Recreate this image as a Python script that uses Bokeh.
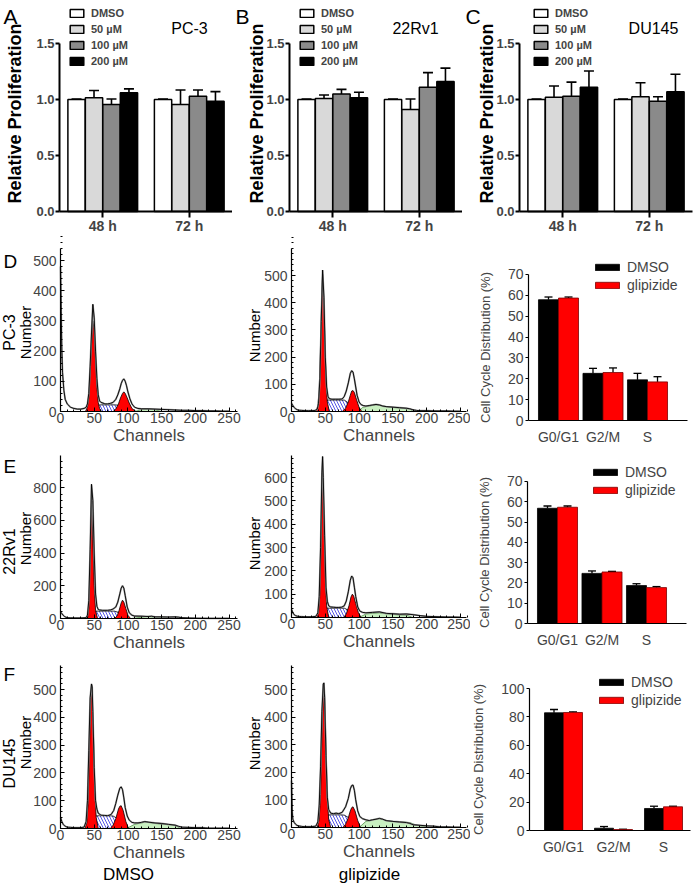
from math import pi
from bokeh.plotting import figure
from bokeh.layouts import column, row
from bokeh.models import Range1d, FixedTicker, Label, Whisker, ColumnDataSource, TeeHead
from bokeh.embed import file_html
from bokeh.resources import INLINE

SANS = "Liberation Sans"

# ---------------- data: proliferation (A-C) ----------------
times = ["48 h", "72 h"]
doses = ["DMSO", "50 µM", "100 µM", "200 µM"]
dose_colors = ["white", "#d9d9d9", "#8a8a8a", "black"]
prolif_yticks = [0, 0.5, 1.0, 1.5]
prolif_ylabels = ["0.0", "0.5", "1.0", "1.5"]

pc3_48 = [1.00, 1.015, 0.955, 1.06]
pc3_48_err = [0.005, 0.065, 0.05, 0.035]
pc3_72 = [1.00, 0.955, 1.03, 0.985]
pc3_72_err = [0.005, 0.13, 0.055, 0.085]

rv1_48 = [1.00, 1.01, 1.05, 1.015]
rv1_48_err = [0.005, 0.03, 0.04, 0.05]
rv1_72 = [1.00, 0.91, 1.11, 1.16]
rv1_72_err = [0.005, 0.095, 0.13, 0.12]

du_48 = [1.00, 1.02, 1.03, 1.11]
du_48_err = [0.005, 0.10, 0.125, 0.145]
du_72 = [1.00, 1.025, 0.985, 1.07]
du_72_err = [0.005, 0.125, 0.04, 0.155]

# ---------------- data: cell cycle distribution ----------------
phases = ["G0/G1", "G2/M", "S"]
pc3_dmso = [57.9, 22.6, 19.5]
pc3_dmso_err = [1.3, 2.4, 3.1]
pc3_glip = [58.7, 23.0, 18.5]
pc3_glip_err = [0.5, 2.2, 2.5]
rv1_dmso = [56.8, 24.7, 18.7]
rv1_dmso_err = [1.1, 1.2, 0.9]
rv1_glip = [57.3, 25.4, 17.7]
rv1_glip_err = [0.6, 0.3, 0.5]
du_dmso = [82.9, 1.6, 15.5]
du_dmso_err = [2.3, 1.2, 1.6]
du_glip = [83.1, 0.7, 16.7]
du_glip_err = [0.5, 0.2, 0.4]
cycle_ticks_70 = [0, 10, 20, 30, 40, 50, 60, 70]
cycle_ticks_100 = [0, 20, 40, 60, 80, 100]

# ---------------- data: DNA histograms ----------------
hist_x_ticks = [0, 50, 100, 150, 200, 250]
hist_x_minor = [0, 10, 20, 30, 40, 50, 60, 70, 80, 90, 100, 110, 120, 130, 140, 150, 160, 170, 180, 190, 200, 210, 220, 230, 240, 250, 260]
hist_y_ticks_500 = [0, 100, 200, 300, 400, 500]
hist_y_ticks_600 = [0, 100, 200, 300, 400, 500, 600]
hist_y_ticks_800 = [0, 200, 400, 600, 800]
hist_y_minor_20 = [0, 20, 40, 60, 80, 100, 120, 140, 160, 180, 200, 220, 240, 260, 280, 300, 320, 340, 360, 380, 400, 420, 440, 460, 480, 500, 520, 540, 560, 580, 600, 620, 640, 660, 680]
hist_y_minor_40 = [0, 40, 80, 120, 160, 200, 240, 280, 320, 360, 400, 440, 480, 520, 560, 600, 640, 680, 720, 760, 800, 840, 880, 920, 960]

# PC-3 DMSO
d1_ch = [0, 1, 2, 3, 5, 7, 10, 15, 20, 25, 30, 35, 38, 40, 42, 44, 46, 48, 50, 52, 54, 56, 58, 60, 63, 66, 70, 74, 78, 82, 85, 88, 90, 92, 94, 96, 98, 100, 103, 106, 110, 115, 120, 130, 140, 150, 160, 170, 180, 190, 200, 210, 220, 230, 240, 250]
d1_n = [480, 330, 200, 130, 70, 40, 25, 14, 10, 8, 8, 10, 14, 25, 60, 150, 260, 355, 310, 200, 110, 55, 35, 30, 28, 25, 25, 27, 30, 40, 55, 75, 92, 103, 108, 100, 85, 65, 42, 25, 14, 10, 9, 9, 8, 7, 6, 5, 4, 4, 3, 3, 2, 2, 1, 1]
d1_g1_ch = [37, 40, 42, 44, 46, 48, 50, 52, 54, 56, 58, 61]
d1_g1 = [0, 15, 45, 120, 220, 300, 270, 170, 80, 30, 10, 0]
d1_g2_ch = [78, 82, 86, 89, 92, 94, 96, 99, 102, 106, 112]
d1_g2 = [0, 8, 25, 45, 60, 65, 60, 45, 28, 10, 0]
d1_s_ch = [48, 52, 60, 70, 80, 90, 94]
d1_s = [0, 20, 22, 22, 22, 20, 0]
d1_gr_ch = [110, 120, 130, 140, 150]
d1_gr = [0, 6, 7, 6, 0]

# PC-3 glipizide
d2_ch = [0, 2, 4, 6, 8, 10, 15, 20, 25, 30, 35, 38, 40, 42, 44, 46, 48, 50, 52, 54, 56, 60, 65, 70, 75, 78, 81, 84, 87, 89, 91, 93, 95, 97, 100, 103, 106, 110, 115, 120, 125, 130, 135, 140, 150, 160, 170, 175, 180, 185, 190, 200, 210, 220, 230, 240, 250]
d2_n = [30, 22, 15, 10, 7, 5, 4, 3, 3, 3, 4, 8, 30, 120, 330, 520, 420, 200, 90, 55, 47, 45, 45, 45, 46, 55, 75, 105, 140, 150, 145, 120, 90, 60, 35, 25, 22, 20, 22, 24, 26, 24, 20, 18, 16, 14, 12, 10, 6, 4, 3, 3, 2, 2, 2, 1, 1]
d2_g1_ch = [36, 39, 41, 43, 45, 46, 47, 49, 51, 53, 56]
d2_g1 = [0, 20, 80, 250, 450, 505, 460, 300, 120, 35, 0]
d2_g2_ch = [75, 80, 84, 87, 89, 91, 93, 96, 100, 104]
d2_g2 = [0, 12, 35, 60, 75, 77, 70, 45, 15, 0]
d2_s_ch = [47, 52, 60, 70, 78, 85, 90]
d2_s = [0, 42, 42, 42, 42, 30, 0]
d2_gr_ch = [100, 105, 115, 125, 130, 140, 150, 165, 175, 180]
d2_gr = [0, 15, 20, 25, 24, 18, 15, 12, 10, 0]

# 22Rv1 DMSO
e1_ch = [0, 2, 4, 6, 8, 10, 15, 20, 30, 38, 40, 42, 44, 46, 48, 50, 52, 54, 56, 58, 62, 66, 70, 74, 78, 82, 85, 88, 90, 92, 94, 96, 99, 102, 106, 110, 120, 130, 135, 140, 150, 160, 170, 175, 180, 190, 200, 220, 250]
e1_n = [40, 30, 20, 12, 8, 5, 4, 3, 3, 5, 20, 110, 420, 820, 720, 400, 150, 75, 55, 52, 50, 50, 50, 52, 58, 70, 100, 150, 185, 200, 185, 140, 70, 35, 20, 15, 14, 12, 14, 10, 10, 9, 10, 8, 5, 3, 2, 1, 1]
e1_g1_ch = [40, 42, 44, 45, 46, 47, 48, 50, 52, 55]
e1_g1 = [0, 60, 330, 560, 690, 620, 480, 200, 50, 0]
e1_g2_ch = [80, 84, 87, 90, 92, 94, 97, 100, 104]
e1_g2 = [0, 15, 50, 95, 112, 100, 60, 20, 0]
e1_s_ch = [48, 52, 60, 70, 80, 88, 93]
e1_s = [0, 45, 45, 45, 45, 35, 0]
e1_gr_ch = [105, 120, 130, 140, 160, 175, 180]
e1_gr = [0, 8, 14, 8, 6, 8, 0]

# 22Rv1 glipizide
e2_ch = [0, 2, 4, 6, 8, 10, 15, 20, 30, 36, 39, 41, 43, 45, 46, 47, 49, 51, 53, 55, 58, 62, 66, 70, 74, 78, 81, 84, 87, 89, 91, 93, 95, 98, 101, 105, 110, 120, 130, 140, 150, 160, 170, 180, 190, 200, 210, 220, 230, 240, 250]
e2_n = [35, 20, 12, 8, 6, 5, 4, 3, 3, 5, 20, 90, 300, 620, 690, 600, 350, 130, 70, 50, 45, 44, 43, 43, 44, 50, 70, 110, 160, 178, 170, 130, 90, 45, 28, 22, 20, 22, 24, 18, 16, 14, 15, 12, 8, 5, 4, 3, 2, 2, 1]
e2_g1_ch = [37, 40, 42, 44, 45, 46, 47, 48, 50, 52, 55]
e2_g1 = [0, 20, 100, 350, 520, 586, 540, 420, 180, 50, 0]
e2_g2_ch = [77, 81, 85, 88, 90, 92, 95, 99, 103]
e2_g2 = [0, 15, 50, 88, 100, 92, 60, 20, 0]
e2_s_ch = [46, 52, 60, 70, 78, 85, 90]
e2_s = [0, 40, 40, 40, 40, 30, 0]
e2_gr_ch = [100, 110, 120, 130, 140, 155, 170, 180]
e2_gr = [0, 15, 18, 20, 16, 12, 10, 0]

# DU145 DMSO
f1_ch = [0, 2, 4, 6, 8, 10, 15, 20, 30, 35, 38, 40, 42, 44, 46, 47, 48, 50, 52, 54, 56, 60, 65, 70, 75, 79, 82, 85, 88, 90, 92, 94, 96, 99, 102, 106, 110, 115, 120, 125, 130, 140, 150, 160, 170, 175, 180, 190, 200, 210, 215, 220, 230, 240, 250]
f1_n = [40, 25, 15, 10, 7, 5, 4, 3, 3, 5, 25, 100, 280, 470, 520, 510, 420, 220, 100, 70, 55, 48, 47, 46, 50, 65, 90, 120, 145, 150, 140, 110, 75, 45, 30, 22, 20, 20, 22, 25, 23, 20, 18, 15, 12, 8, 5, 4, 3, 3, 2, 1, 1, 1, 1]
f1_g1_ch = [36, 39, 41, 43, 45, 46, 47, 49, 51, 53, 56]
f1_g1 = [0, 20, 90, 280, 460, 504, 480, 330, 130, 40, 0]
f1_g2_ch = [74, 78, 82, 86, 88, 90, 93, 97, 101]
f1_g2 = [0, 12, 35, 70, 80, 82, 65, 25, 0]
f1_s_ch = [45, 50, 60, 70, 78, 85, 90]
f1_s = [0, 45, 46, 46, 45, 35, 0]
f1_gr_ch = [98, 110, 120, 128, 140, 155, 170, 178]
f1_gr = [0, 15, 20, 24, 18, 15, 12, 0]

# DU145 glipizide
f2_ch = [0, 1, 2, 4, 6, 8, 10, 15, 20, 30, 36, 39, 41, 43, 45, 47, 48, 49, 51, 53, 55, 58, 62, 66, 70, 75, 80, 84, 87, 89, 91, 93, 95, 98, 101, 105, 110, 115, 120, 125, 130, 135, 140, 150, 160, 170, 175, 180, 190, 200, 210, 220, 230, 240, 250]
f2_n = [170, 60, 30, 18, 12, 8, 6, 4, 3, 3, 5, 20, 80, 220, 420, 520, 524, 470, 260, 110, 65, 52, 50, 52, 50, 55, 75, 105, 140, 152, 154, 135, 100, 60, 40, 32, 28, 25, 28, 30, 33, 30, 25, 22, 20, 18, 15, 10, 8, 6, 5, 2, 2, 1, 1]
f2_g1_ch = [38, 41, 43, 45, 47, 48, 49, 51, 53, 55, 58]
f2_g1 = [0, 30, 120, 330, 480, 506, 480, 300, 110, 30, 0]
f2_g2_ch = [76, 80, 84, 87, 89, 91, 94, 98, 102]
f2_g2 = [0, 12, 35, 60, 72, 75, 60, 25, 0]
f2_s_ch = [47, 52, 60, 70, 78, 85, 91]
f2_s = [0, 45, 46, 46, 45, 35, 0]
f2_gr_ch = [100, 110, 120, 130, 140, 150, 165, 175, 185, 210]
f2_gr = [0, 22, 28, 33, 26, 22, 20, 18, 8, 0]


def add_text(p, x, y, text, size, style="normal", angle=0.0,
             align="center", baseline="middle"):
    p.add_layout(Label(x=x, y=y, x_units="screen", y_units="screen", text=text,
                       text_font=SANS, text_font_size=f"{size}px", text_font_style=style,
                       angle=angle, text_align=align, text_baseline=baseline,
                       text_color="black"))


def make_fig(width, height, ox, oy, xs, ys, x0=0.0, y0=0.0):
    """Frame fills the whole canvas; (x0, y0) sits ox/oy pixels from the left/bottom."""
    p = figure(width=width, height=height,
               x_range=Range1d(x0 - ox / xs, x0 + (width - ox) / xs),
               y_range=Range1d(y0 - oy / ys, y0 + (height - oy) / ys),
               output_backend="svg", toolbar_location=None, min_border=0)
    p.outline_line_color = None
    p.grid.visible = False
    return p


def style_legend(lg, loc, gw, gh, lh, spacing, size, fstyle="normal", standoff=5):
    lg.location = loc
    lg.border_line_color = None
    lg.background_fill_alpha = 0
    lg.padding = 0
    lg.margin = 0
    lg.spacing = spacing
    lg.glyph_width = gw
    lg.glyph_height = gh
    lg.label_height = lh
    lg.label_standoff = standoff
    lg.label_text_font = SANS
    lg.label_text_font_style = fstyle
    lg.label_text_font_size = f"{size}px"


def prolif_panel(letter, title, title_x, ylab_x, v48, e48, v72, e72, width, ox, leg_x):
    p = make_fig(width, 234, ox, 23, 86.5, 112.0, x0=0.5)
    offsets = [-0.303, -0.101, 0.101, 0.303]
    for k in range(4):
        src = ColumnDataSource(dict(
            x=[1 + offsets[k], 2 + offsets[k]],
            top=[v48[k], v72[k]],
            upper=[v48[k] + e48[k], v72[k] + e72[k]]))
        p.add_layout(Whisker(source=src, base="x", upper="upper", lower="top",
                             dimension="height", line_width=1.6, line_color="black",
                             upper_head=TeeHead(size=10, line_width=1.6, line_color="black"),
                             lower_head=None))
        p.vbar(x="x", top="top", width=0.2, source=src, fill_color=dose_colors[k],
               line_color="black", line_width=1.5, legend_label=doses[k])
    yax = p.yaxis[0]
    yax.fixed_location = 0.5
    yax.ticker = FixedTicker(ticks=prolif_yticks)
    yax.major_label_overrides = {t: s for t, s in zip(prolif_yticks, prolif_ylabels)}
    yax.bounds = (0, 1.5)
    yax.major_label_standoff = 1
    yax.major_tick_out = 4
    xax = p.xaxis[0]
    xax.fixed_location = 0
    xax.bounds = (0.5, 2.5)
    xax.ticker = FixedTicker(ticks=[1, 2])
    xax.major_label_overrides = {1: times[0], 2: times[1]}
    xax.major_label_standoff = 0
    xax.major_tick_out = 6
    for ax in (xax, yax):
        ax.axis_line_width = 2
        ax.major_tick_line_width = 2
        ax.major_tick_in = 0
        ax.minor_tick_line_color = None
        ax.major_label_text_font = SANS
        ax.major_label_text_font_style = "bold"
        ax.major_label_text_font_size = "14px"
    yax.major_label_text_font_size = "13px"
    style_legend(p.legend[0], (leg_x, 167), 17, 10, 12, 4, 11, "bold", 6)
    add_text(p, 3, 230, letter, 21, align="left", baseline="top")
    add_text(p, title_x, 206, title, 16)
    add_text(p, ylab_x, 121, "Relative Proliferation", 18, style="bold", angle=pi / 2)
    return p


def hist_panel(width, height, ox, oy, xs, ys, xb, yb, yticks, yminor,
               ch, cnt, g1c, g1v, g2c, g2v, sc, sv, grc, grv, num_x, num_y):
    p = make_fig(width, height, ox, oy, xs, ys)
    p.varea(x=grc, y1=0, y2=grv, fill_color="#c8efc0")
    p.line(grc, grv, line_color="#4f8f46", line_width=0.8)
    p.varea(x=sc, y1=0, y2=sv, fill_color="white", hatch_pattern="\\",
            hatch_color="#2a2ae0", hatch_scale=6, hatch_weight=0.8)
    p.line(sc, sv, line_color="black", line_width=0.8)
    p.patch(g1c, g1v, fill_color="#ff0000", line_color="black", line_width=0.8)
    p.patch(g2c, g2v, fill_color="#ff0000", line_color="black", line_width=0.8)
    p.line(ch, cnt, line_color="#9a9a9a", line_width=1.8)
    p.line(ch, cnt, line_color="black", line_width=0.9)
    xax = p.xaxis[0]
    xax.fixed_location = 0
    xax.bounds = (0, xb)
    xax.ticker = FixedTicker(ticks=hist_x_ticks, minor_ticks=hist_x_minor)
    xax.axis_label = "Channels"
    xax.major_label_standoff = 1
    xax.axis_label_text_font_size = "17px"
    yax = p.yaxis[0]
    yax.fixed_location = 0
    yax.bounds = (0, yb)
    yax.ticker = FixedTicker(ticks=yticks, minor_ticks=yminor)
    yax.major_label_standoff = 4
    for ax in (xax, yax):
        ax.axis_line_width = 1.2
        ax.major_tick_in = 4
        ax.major_tick_out = 0
        ax.minor_tick_in = 2
        ax.minor_tick_out = 0
        ax.major_label_text_font = SANS
        ax.major_label_text_font_size = "14px"
        ax.axis_label_text_font = SANS
        ax.axis_label_text_font_style = "normal"
        ax.axis_label_standoff = 0
    add_text(p, num_x, num_y, "Number", 15, angle=pi / 2)
    return p


def cycle_panel(width, height, ox, oy, xs, ys, xl, xr, yticks, bw,
                dm, dme, gl, gle, leg_loc):
    p = make_fig(width, height, ox, oy, xs, ys)
    idx = [0, 1, 2]
    for vals, errs, col, outline, name, sgn in ((dm, dme, "black", "black", "DMSO", -1),
                                                 (gl, gle, "#ff0000", "#7a0000", "glipizide", 1)):
        src = ColumnDataSource(dict(
            x=[i + sgn * bw / 2 for i in idx], top=vals,
            upper=[v + e for v, e in zip(vals, errs)]))
        p.add_layout(Whisker(source=src, base="x", upper="upper", lower="top",
                             dimension="height", line_width=1.3, line_color="black",
                             upper_head=TeeHead(size=8, line_width=1.3, line_color="black"),
                             lower_head=None))
        p.vbar(x="x", top="top", width=bw, source=src, fill_color=col,
               line_color=outline, line_width=0.8, legend_label=name)
    yax = p.yaxis[0]
    yax.fixed_location = xl
    yax.ticker = FixedTicker(ticks=yticks)
    yax.bounds = (0, yticks[-1])
    yax.axis_label = "Cell Cycle Distribution (%)"
    yax.axis_label_text_font = SANS
    yax.axis_label_text_font_size = "13px"
    yax.axis_label_text_font_style = "normal"
    yax.axis_label_standoff = 12
    yax.major_tick_out = 3
    yax.major_tick_in = 0
    yax.minor_tick_line_color = None
    yax.major_label_standoff = 2
    xax = p.xaxis[0]
    xax.fixed_location = 0
    xax.bounds = (xl, xr)
    xax.ticker = FixedTicker(ticks=idx)
    xax.major_label_overrides = {i: s for i, s in zip(idx, phases)}
    xax.major_tick_line_color = None
    xax.minor_tick_line_color = None
    xax.major_label_standoff = 2
    for ax in (xax, yax):
        ax.axis_line_width = 1.2
        ax.major_label_text_font = SANS
        ax.major_label_text_font_size = "14px"
    style_legend(p.legend[0], leg_loc, 30, 8, 16, 2, 14)
    return p


# ---------------- row 1 ----------------
pA = prolif_panel("A", "PC-3", 189, 14, pc3_48, pc3_48_err, pc3_72, pc3_72_err, 232, 59, 68)
pB = prolif_panel("B", "22Rv1", 183, 24, rv1_48, rv1_48_err, rv1_72, rv1_72_err, 230, 57, 66)
pC = prolif_panel("C", "DU145", 191, 24, du_48, du_48_err, du_72, du_72_err, 238, 57, 70)

# ---------------- row 2 (PC-3) ----------------
pD1 = hist_panel(245, 213, 60, 36, 0.674, 0.302, 262, 540, hist_y_ticks_500, hist_y_minor_20,
                 d1_ch, d1_n, d1_g1_ch, d1_g1, d1_g2_ch, d1_g2, d1_s_ch, d1_s, d1_gr_ch, d1_gr,
                 25, 115)
add_text(pD1, 3, 197, "D", 19, align="left", baseline="top")
add_text(pD1, 9, 115, "PC-3", 16, angle=pi / 2)
pD2 = hist_panel(225, 213, 46, 36, 0.676, 0.272, 259, 599, hist_y_ticks_500, hist_y_minor_20,
                 d2_ch, d2_n, d2_g1_ch, d2_g1, d2_g2_ch, d2_g2, d2_s_ch, d2_s, d2_gr_ch, d2_gr,
                 9, 112)
pD3 = cycle_panel(230, 213, 88, 27, 44.5, 2.086, -0.674, 2.90, cycle_ticks_70, 0.45,
                  pc3_dmso, pc3_dmso_err, pc3_glip, pc3_glip_err, (122, 154))

# ---------------- row 3 (22Rv1) ----------------
pE1 = hist_panel(245, 215, 60, 44, 0.674, 0.16375, 262, 995, hist_y_ticks_800, hist_y_minor_40,
                 e1_ch, e1_n, e1_g1_ch, e1_g1, e1_g2_ch, e1_g2, e1_s_ch, e1_s, e1_gr_ch, e1_gr,
                 25, 124)
add_text(pE1, 3, 207, "E", 19, align="left", baseline="top")
add_text(pE1, 9, 111, "22Rv1", 16, angle=pi / 2)
pE2 = hist_panel(225, 215, 46, 45, 0.676, 0.2333, 259, 694, hist_y_ticks_600, hist_y_minor_20,
                 e2_ch, e2_n, e2_g1_ch, e2_g1, e2_g2_ch, e2_g2, e2_s_ch, e2_s, e2_gr_ch, e2_gr,
                 9, 119)
pE3 = cycle_panel(230, 215, 87, 39, 44.5, 2.029, -0.674, 2.90, cycle_ticks_70, 0.45,
                  rv1_dmso, rv1_dmso_err, rv1_glip, rv1_glip_err, (120, 164))

# ---------------- row 4 (DU145) ----------------
pF1 = hist_panel(245, 226, 60, 60, 0.674, 0.278, 262, 586, hist_y_ticks_500, hist_y_minor_20,
                 f1_ch, f1_n, f1_g1_ch, f1_g1, f1_g2_ch, f1_g2, f1_s_ch, f1_s, f1_gr_ch, f1_gr,
                 25, 146)
add_text(pF1, 3, 225, "F", 19, align="left", baseline="top")
add_text(pF1, 9, 125, "DU145", 16, angle=pi / 2)
add_text(pF1, 128, 14, "DMSO", 17)
pF2 = hist_panel(225, 226, 46, 61, 0.676, 0.276, 259, 587, hist_y_ticks_500, hist_y_minor_20,
                 f2_ch, f2_n, f2_g1_ch, f2_g1, f2_g2_ch, f2_g2, f2_s_ch, f2_s, f2_gr_ch, f2_gr,
                 9, 145)
add_text(pF2, 124, 14, "glipizide", 17)
pF3 = cycle_panel(230, 226, 93, 58, 50.0, 1.42, -0.68, 2.54, cycle_ticks_100, 0.38,
                  du_dmso, du_dmso_err, du_glip, du_glip_err, (126, 180))

layout = column(row(pA, pB, pC), row(pD1, pD2, pD3), row(pE1, pE2, pE3), row(pF1, pF2, pF3))

open("out.html", "w").write(file_html(layout, INLINE, title="Glipizide figure"))
